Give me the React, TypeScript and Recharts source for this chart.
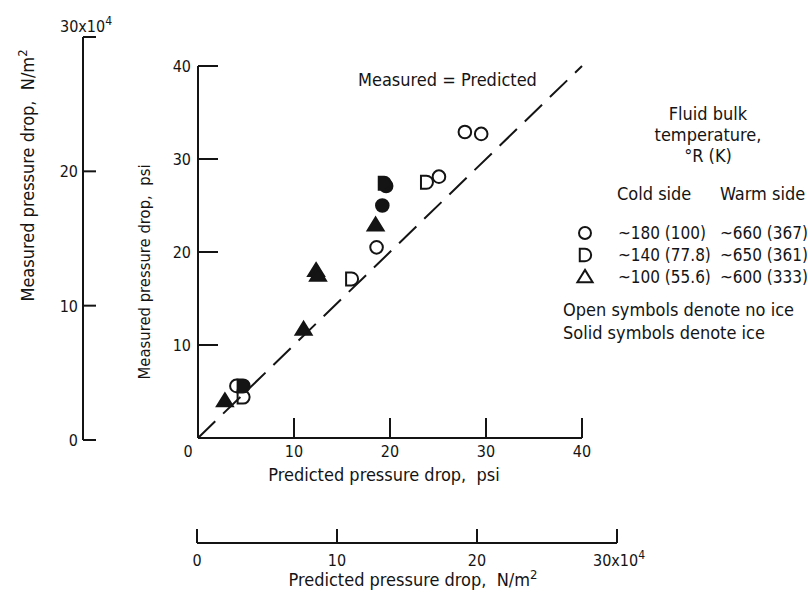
import React from 'react';
import { ScatterChart, Scatter, XAxis, YAxis, ReferenceLine, Legend } from 'recharts';

const FONT = "'DejaVu Sans Condensed', 'Liberation Sans Narrow', 'DejaVu Sans', sans-serif";
const INK = '#141414';
const WORD = 18;
const NUM = 16;

// Axis ticks
const psiTicks = [0, 10, 20, 30, 40];
const paTicks = [0, 10, 20, 30]; // units of 10^4 N/m^2

// Data: x = predicted pressure drop (psi), y = measured pressure drop (psi)
const openCircle = [
  { x: 4.0, y: 5.6 },
  { x: 18.6, y: 20.5 },
  { x: 25.1, y: 28.1 },
  { x: 27.8, y: 32.9 },
  { x: 29.5, y: 32.7 },
];
const openD = [
  { x: 4.7, y: 4.4 },
  { x: 16.0, y: 17.1 },
  { x: 23.8, y: 27.5 },
];
const solidCircle = [
  { x: 19.2, y: 25.0 },
  { x: 19.6, y: 27.1 },
];
const solidD = [
  { x: 4.7, y: 5.6 },
  { x: 19.4, y: 27.4 },
];
const solidTriangle = [
  { x: 2.8, y: 4.0 },
  { x: 11.0, y: 11.7 },
  { x: 12.3, y: 18.0 },
  { x: 12.5, y: 17.5 },
  { x: 18.5, y: 22.9 },
];

// Legend
const legendTitle = ['Fluid bulk', 'temperature,', '\u00B0R (K)'];
const legendShapes = ['circle', 'D', 'triangle'];
const coldSide = ['~180 (100)', '~140 (77.8)', '~100 (55.6)'];
const warmSide = ['~660 (367)', '~650 (361)', '~600 (333)'];
const legendNotes = ['Open symbols denote no ice', 'Solid symbols denote ice'];

function T(props: any) {
  return (
    <text fontFamily={FONT} fontSize={WORD} fill={INK} style={{ whiteSpace: 'pre' }} {...props} />
  );
}

function Marker({ kind, filled, cx, cy, s = 1 }: any) {
  const common = { fill: filled ? INK : 'none', stroke: INK, strokeWidth: 2 };
  if (kind === 'circle') return <circle cx={cx} cy={cy} r={6.3 * s} {...common} />;
  if (kind === 'D') {
    const h = 6.5 * s;
    const w = 5.5 * s;
    return (
      <path
        d={`M${cx - w},${cy - h} L${cx},${cy - h} A${h},${h} 0 0 1 ${cx},${cy + h} L${cx - w},${cy + h} Z`}
        {...common}
      />
    );
  }
  const a = 8 * s;
  return (
    <path
      d={`M${cx},${cy - 7.5 * s} L${cx + a},${cy + 5.5 * s} L${cx - a},${cy + 5.5 * s} Z`}
      {...common}
    />
  );
}

const shapeFn = (kind: string, filled: boolean) => (p: any) =>
  <Marker kind={kind} filled={filled} cx={p.cx} cy={p.cy} />;

const noShape = () => <g />;

function PsiXTick(p: any) {
  const v = p.payload.value;
  return (
    <g>
      {v > 0 && <line x1={p.x} x2={p.x} y1={p.y} y2={p.y - 20} stroke={INK} strokeWidth={2} />}
      <T x={p.x + (v === 0 ? -10 : 0)} y={p.y + 19} textAnchor="middle" fontSize={NUM}>{v}</T>
    </g>
  );
}

function PsiYTick(p: any) {
  const v = p.payload.value;
  if (v === 0) return <g />;
  return (
    <g>
      <line x1={p.x} x2={p.x + 20} y1={p.y} y2={p.y} stroke={INK} strokeWidth={2} />
      <T x={p.x - 7} y={p.y + 6} textAnchor="end" fontSize={NUM}>{v}</T>
    </g>
  );
}

function PaYTick(p: any) {
  const v = p.payload.value;
  return (
    <g>
      <line x1={p.x} x2={p.x + 13} y1={p.y} y2={p.y} stroke={INK} strokeWidth={2} />
      {v === 30 ? (
        <T x={p.x - 23} y={p.y - 5} textAnchor="start" fontSize={NUM}>
          30x10<tspan dy={-7} fontSize={12}>4</tspan>
        </T>
      ) : (
        <T x={p.x - 5} y={p.y + 6} textAnchor="end" fontSize={NUM}>{v}</T>
      )}
    </g>
  );
}

function PaXTick(p: any) {
  const v = p.payload.value;
  return (
    <g>
      <line x1={p.x} x2={p.x} y1={p.y} y2={p.y - 14} stroke={INK} strokeWidth={2} />
      {v === 30 ? (
        <T x={p.x - 24} y={p.y + 23} textAnchor="start" fontSize={NUM}>
          30x10<tspan dy={-7} fontSize={12}>4</tspan>
        </T>
      ) : (
        <T x={p.x} y={p.y + 23} textAnchor="middle" fontSize={NUM}>{v}</T>
      )}
    </g>
  );
}

function LegendBox() {
  const ox = 555;
  const oy = 95;
  const rowY = [233, 255, 277];
  return (
    <svg width={253} height={260} style={{ display: 'block' }}>
      <g transform={`translate(${-ox},${-oy})`}>
        {legendTitle.map((t, i) => (
          <T key={t} x={708} y={120 + i * 21} textAnchor="middle">{t}</T>
        ))}
        <T x={617} y={200}>Cold side</T>
        <T x={720} y={200}>Warm side</T>
        {legendShapes.map((k, i) => (
          <g key={k}>
            <Marker kind={k} filled={false} cx={585} cy={rowY[i]} s={0.95} />
            <T x={618} y={rowY[i] + 6} fontSize={17}>{coldSide[i]}</T>
            <T x={720} y={rowY[i] + 6} fontSize={17}>{warmSide[i]}</T>
          </g>
        ))}
        {legendNotes.map((t, i) => (
          <T key={t} x={563} y={316 + i * 23}>{t}</T>
        ))}
      </g>
    </svg>
  );
}

function MainChart() {
  return (
    <ScatterChart width={808} height={593} margin={{ top: 66, right: 226, bottom: 95, left: 197 }}>
      <XAxis
        type="number"
        dataKey="x"
        domain={[0, 40]}
        allowDataOverflow
        ticks={psiTicks}
        interval={0}
        height={60}
        tickSize={0}
        tickMargin={0}
        tickLine={false}
        axisLine={{ stroke: INK, strokeWidth: 2 }}
        tick={(p: any) => <PsiXTick {...p} />}
        label={{
          content: (props: any) => {
            const vb = props.viewBox || { x: 198, y: 438, width: 384 };
            return (
              <T x={vb.x + vb.width / 2 - 6} y={vb.y + 43} textAnchor="middle">
                Predicted pressure drop,  psi
              </T>
            );
          },
        }}
      />
      <YAxis
        type="number"
        dataKey="y"
        domain={[0, 40]}
        allowDataOverflow
        ticks={psiTicks}
        interval={0}
        width={1}
        tickSize={0}
        tickMargin={0}
        tickLine={false}
        axisLine={{ stroke: INK, strokeWidth: 2 }}
        tick={(p: any) => <PsiYTick {...p} />}
        label={{
          content: (props: any) => {
            const vb = props.viewBox || { x: 197, y: 66, width: 1, height: 372 };
            const x = vb.x + vb.width - 48;
            const y = vb.y + vb.height / 2 + 20;
            return (
              <T x={x} y={y} fontSize={16.5} textAnchor="middle" transform={`rotate(-90 ${x} ${y})`}>
                Measured pressure drop,  psi
              </T>
            );
          },
        }}
      />
      <ReferenceLine
        segment={[{ x: 0, y: 0 }, { x: 40, y: 40 }]}
        stroke={INK}
        strokeWidth={2}
        strokeDasharray="24 11"
        label={{
          content: () => <T x={358} y={86}>Measured = Predicted</T>,
        }}
      />
      <Scatter data={openCircle} isAnimationActive={false} shape={shapeFn('circle', false)} />
      <Scatter data={openD} isAnimationActive={false} shape={shapeFn('D', false)} />
      <Scatter data={solidCircle} isAnimationActive={false} shape={shapeFn('circle', true)} />
      <Scatter data={solidD} isAnimationActive={false} shape={shapeFn('D', true)} />
      <Scatter data={solidTriangle} isAnimationActive={false} shape={shapeFn('triangle', true)} />
      <Legend
        layout="vertical"
        align="center"
        verticalAlign="middle"
        content={() => <LegendBox />}
        wrapperStyle={{ position: 'absolute', left: 555, top: 95, width: 253, height: 260, margin: 0 }}
      />
    </ScatterChart>
  );
}

const paAnchors = paTicks.map((v) => ({ x: v, y: v }));

function LeftPaAxis() {
  return (
    <ScatterChart width={808} height={593} margin={{ top: 37, right: 700, bottom: 153, left: 82 }}>
      <XAxis type="number" dataKey="x" domain={[0, 30]} allowDataOverflow hide />
      <YAxis
        type="number"
        dataKey="y"
        domain={[0, 30]}
        allowDataOverflow
        ticks={paTicks}
        interval={0}
        width={1}
        tickSize={0}
        tickMargin={0}
        tickLine={false}
        axisLine={{ stroke: INK, strokeWidth: 2 }}
        tick={(p: any) => <PaYTick {...p} />}
        label={{
          content: (props: any) => {
            const vb = props.viewBox || { x: 82, y: 37, width: 1, height: 403 };
            const x = vb.x + vb.width - 49;
            const y = vb.y + vb.height / 2 - 63;
            return (
              <T x={x} y={y} textAnchor="middle" transform={`rotate(-90 ${x} ${y})`}>
                Measured pressure drop,  N/m<tspan dy={-7} fontSize={13}>2</tspan>
              </T>
            );
          },
        }}
      />
      <Scatter data={paAnchors} isAnimationActive={false} shape={noShape} />
    </ScatterChart>
  );
}

function BottomPaAxis() {
  return (
    <ScatterChart width={808} height={593} margin={{ top: 480, right: 191, bottom: 0, left: 197 }}>
      <XAxis
        type="number"
        dataKey="x"
        domain={[0, 30]}
        allowDataOverflow
        ticks={paTicks}
        interval={0}
        height={50}
        tickSize={0}
        tickMargin={0}
        tickLine={false}
        axisLine={{ stroke: INK, strokeWidth: 2 }}
        tick={(p: any) => <PaXTick {...p} />}
        label={{
          content: (props: any) => {
            const vb = props.viewBox || { x: 197, y: 543, width: 420 };
            return (
              <T x={vb.x + vb.width / 2 + 6} y={vb.y + 43} textAnchor="middle">
                Predicted pressure drop,  N/m<tspan dy={-7} fontSize={13}>2</tspan>
              </T>
            );
          },
        }}
      />
      <YAxis type="number" dataKey="y" domain={[0, 30]} allowDataOverflow hide />
      <Scatter data={paAnchors} isAnimationActive={false} shape={noShape} />
    </ScatterChart>
  );
}

export default function App() {
  return (
    <div style={{ position: 'absolute', left: 0, top: 0, width: 808, height: 593, background: '#fff' }}>
      <div style={{ position: 'absolute', left: 0, top: 0 }}>
        <MainChart />
      </div>
      <div style={{ position: 'absolute', left: 0, top: 0, pointerEvents: 'none' }}>
        <LeftPaAxis />
      </div>
      <div style={{ position: 'absolute', left: 0, top: 0, pointerEvents: 'none' }}>
        <BottomPaAxis />
      </div>
    </div>
  );
}
